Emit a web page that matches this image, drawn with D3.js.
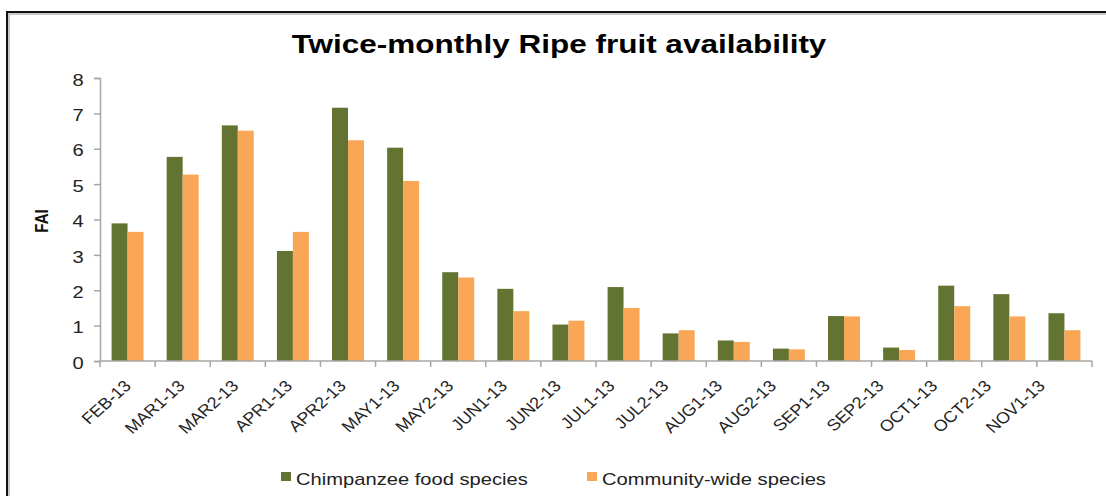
<!DOCTYPE html>
<html>
<head>
<meta charset="utf-8">
<script src="https://cdn.jsdelivr.net/npm/d3@7"></script>
<style>
  html, body { margin: 0; padding: 0; background: #fff; }
  svg { display: block; font-family: "Liberation Sans", Arial, sans-serif; }
</style>
</head>
<body>
<svg id="chart" width="1106" height="496"></svg>
<script>
// Sampling periods (twice-monthly)
const categories = ["FEB-13", "MAR1-13", "MAR2-13", "APR1-13", "APR2-13", "MAY1-13",
  "MAY2-13", "JUN1-13", "JUN2-13", "JUL1-13", "JUL2-13", "AUG1-13", "AUG2-13",
  "SEP1-13", "SEP2-13", "OCT1-13", "OCT2-13", "NOV1-13"];

// Fruit availability index per period
const chimpFood = [3.89, 5.77, 6.66, 3.11, 7.16, 6.03, 2.51, 2.04, 1.03, 2.09,
  0.78, 0.58, 0.35, 1.27, 0.38, 2.13, 1.89, 1.35];
const communityWide = [3.65, 5.27, 6.51, 3.65, 6.24, 5.09, 2.36, 1.41, 1.14, 1.50,
  0.87, 0.54, 0.33, 1.26, 0.31, 1.55, 1.26, 0.87];

const seriesNames = ["Chimpanzee food species", "Community-wide species"];
const seriesColors = ["#637332", "#F9A657"];
const yTicks = [0, 1, 2, 3, 4, 5, 6, 7, 8];

// Text in this chart is drawn slightly widened horizontally
const SX = 1.26;
const SX_LABEL = 1.12;

const svg = d3.select("#chart");

// Chart frame
svg.append("rect").attr("x", 9).attr("y", 14).attr("width", 1110).attr("height", 500)
  .attr("fill", "none").attr("stroke", "#c8c8c8").attr("stroke-width", 2);
svg.append("rect").attr("x", 7).attr("y", 12).attr("width", 1110).attr("height", 500)
  .attr("fill", "none").attr("stroke", "#111").attr("stroke-width", 2);

const plot = { left: 100, right: 1092, top: 78, bottom: 361 };

const x0 = d3.scaleBand().domain(categories)
  .range([plot.left, plot.right]).paddingInner(0.42).paddingOuter(0.21);
const x1 = d3.scaleBand().domain(seriesNames).range([0, x0.bandwidth()]);
const y = d3.scaleLinear().domain([0, 8]).range([plot.bottom, plot.top]);
// Category labels are laid out on a slightly tighter pitch than the bars
const xLabel = d3.scalePoint().domain(categories).range([132, 1046]);

// Title
svg.append("text").attr("transform", `translate(559,53) scale(${SX},1)`)
  .attr("text-anchor", "middle")
  .attr("font-size", 25).attr("font-weight", "bold").attr("fill", "#000")
  .text("Twice-monthly Ripe fruit availability");

// Y axis
const yAxis = svg.append("g").attr("transform", `translate(${plot.left},0)`)
  .call(d3.axisLeft(y).tickValues(yTicks).tickSize(6).tickPadding(7).tickFormat(d3.format("d")));
yAxis.select(".domain").attr("stroke", "#a6a6a6").attr("stroke-width", 1.5);
yAxis.selectAll(".tick line").attr("stroke", "#a6a6a6").attr("stroke-width", 1.5);
yAxis.selectAll(".tick text").attr("font-size", 16).attr("fill", "#222")
  .attr("dy", "0.45em")
  .attr("transform", `scale(${SX},1)`)
  .attr("font-family", "Liberation Sans, Arial, sans-serif");

svg.append("text").attr("transform", `translate(48,221) scale(${SX},1) rotate(-90)`)
  .attr("text-anchor", "middle").attr("font-size", 15).attr("font-weight", "bold")
  .attr("fill", "#111").text("FAI");

// Bars
const groups = svg.append("g").selectAll("g").data(categories).join("g")
  .attr("transform", d => `translate(${x0(d)},0)`);
groups.selectAll("rect")
  .data((d, i) => [chimpFood[i], communityWide[i]].map((v, k) => ({ v, k })))
  .join("rect")
  .attr("x", d => x1(seriesNames[d.k]))
  .attr("width", x1.bandwidth())
  .attr("y", d => y(d.v))
  .attr("height", d => y(0) - y(d.v))
  .attr("fill", d => seriesColors[d.k]);

// X axis with ticks at category boundaries
const step = x0.step();
svg.append("line").attr("x1", plot.left).attr("x2", plot.right)
  .attr("y1", y(0)).attr("y2", y(0)).attr("stroke", "#a6a6a6").attr("stroke-width", 1.5);
svg.append("g").selectAll("line").data(d3.range(categories.length + 1)).join("line")
  .attr("x1", i => plot.left + i * step).attr("x2", i => plot.left + i * step)
  .attr("y1", y(0)).attr("y2", y(0) + 6)
  .attr("stroke", "#a6a6a6").attr("stroke-width", 1.5);

svg.append("g").selectAll("text").data(categories).join("text")
  .attr("transform", d => `translate(${xLabel(d)},${y(0) + 26}) scale(${SX_LABEL},1) rotate(-45)`)
  .attr("text-anchor", "end").attr("font-size", 16).attr("fill", "#222")
  .text(d => d);

// Legend
const legendItems = [{ x: 281, name: seriesNames[0], color: seriesColors[0] },
                     { x: 587, name: seriesNames[1], color: seriesColors[1] }];
const leg = svg.append("g").selectAll("g").data(legendItems).join("g")
  .attr("transform", d => `translate(${d.x},472)`);
leg.append("rect").attr("width", 10).attr("height", 9).attr("fill", d => d.color);
leg.append("text").attr("transform", `translate(15,13) scale(${SX},1)`)
  .attr("font-size", 16).attr("fill", "#222")
  .text(d => d.name);
</script>
</body>
</html>
